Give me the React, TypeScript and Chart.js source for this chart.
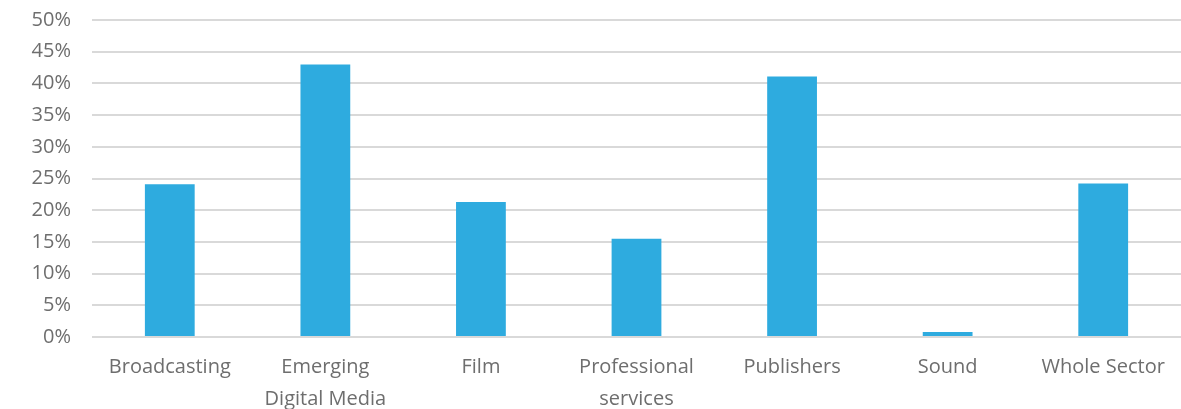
import React, { useEffect, useRef } from "react";
import { Chart, registerables } from "chart.js";

Chart.register(...registerables);

const categories: (string | string[])[] = [
  "Broadcasting",
  ["Emerging", "Digital Media"],
  "Film",
  ["Professional", "services"],
  "Publishers",
  "Sound",
  "Whole Sector",
];

const values: number[] = [24.1, 43.0, 21.3, 15.5, 41.1, 0.8, 24.2];

const yMin = 0;
const yMax = 50;
const yStep = 5;

const barColor = "#2EABDF";
const gridColor = "#D9D9D9";
const textColor = "#6E6E6E";

export default function App() {
  const ref = useRef<HTMLCanvasElement | null>(null);

  useEffect(() => {
    if (!ref.current) return;
    const chart = new Chart(ref.current, {
      type: "bar",
      data: {
        labels: categories,
        datasets: [
          {
            data: values,
            backgroundColor: barColor,
            borderWidth: 0,
            barPercentage: 0.32,
            categoryPercentage: 1,
          },
        ],
      },
      options: {
        animation: false,
        responsive: false,
        maintainAspectRatio: false,
        layout: { padding: { top: 20, right: 0, left: 0, bottom: 0 } },
        plugins: {
          legend: { display: false },
          tooltip: { enabled: false },
        },
        scales: {
          x: {
            grid: { display: false, drawTicks: false },
            border: { display: false },
            ticks: {
              color: textColor,
              font: { family: "'Open Sans'", size: 20, lineHeight: "32px" },
              padding: 14,
              maxRotation: 0,
              autoSkip: false,
            },
            afterFit: (scale: any) => {
              scale.height = 72;
              scale.paddingLeft = 0;
              scale.paddingRight = 0;
            },
          },
          y: {
            min: yMin,
            max: yMax,
            grid: { color: gridColor, lineWidth: 2, drawTicks: false },
            border: { display: false },
            ticks: {
              stepSize: yStep,
              color: textColor,
              font: { family: "'Open Sans'", size: 20 },
              padding: 21,
              callback: (v: any) => `${v}%`,
            },
            afterFit: (scale: any) => {
              scale.width = 92;
              scale.paddingTop = 0;
              scale.paddingBottom = 0;
            },
          },
        },
      },
    });
    return () => chart.destroy();
  }, []);

  return (
    <div style={{ position: "fixed", left: 0, top: 0, width: 1181, height: 409, background: "#fff" }}>
      <canvas ref={ref} width={1181} height={409} style={{ width: 1181, height: 409, display: "block" }} />
    </div>
  );
}
